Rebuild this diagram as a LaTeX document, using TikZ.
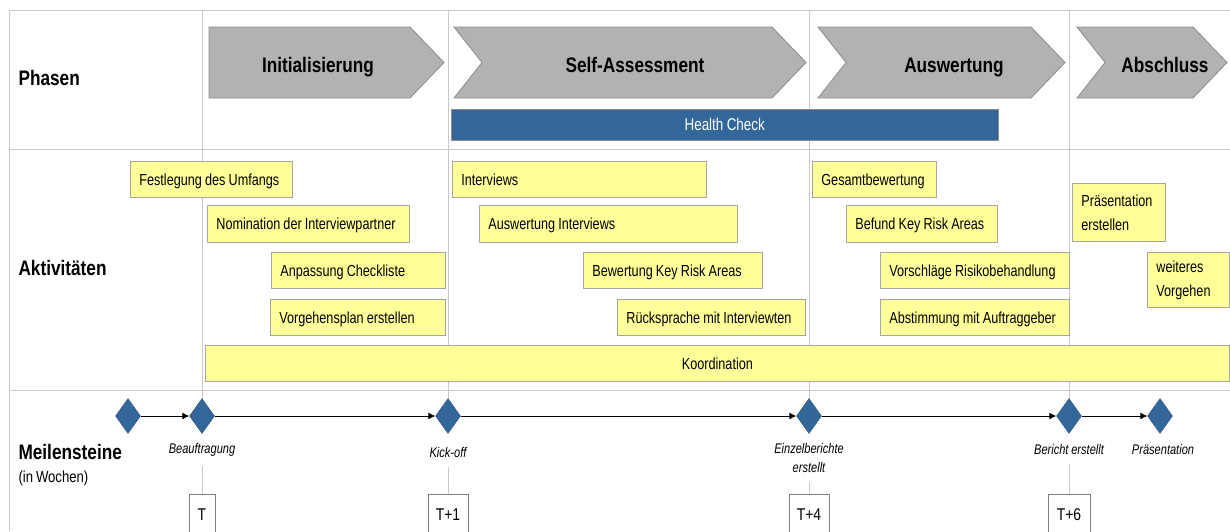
\documentclass[tikz,border=0pt]{standalone}
\usepackage{fontspec}
\setmainfont{Liberation Sans}[FakeStretch=0.82, WordSpace=0.8]
\newfontfamily\narrowfont{Liberation Sans}[FakeStretch=0.79, WordSpace=0.9]
\usetikzlibrary{shapes.geometric,arrows.meta}

\hyphenpenalty=10000
\exhyphenpenalty=10000

\definecolor{phasegray}{HTML}{B2B2B2}
\definecolor{phaseline}{HTML}{8C8C8C}
\definecolor{hcblue}{HTML}{336699}
\definecolor{actyellow}{HTML}{FFFF99}
\definecolor{actline}{HTML}{A6A6A6}
\definecolor{gridgray}{HTML}{C8C8C8}

\tikzset{
  gridline/.style={gridgray, line width=0.8pt},
  phase/.style={fill=phasegray, draw=phaseline, line width=0.8pt},
  phasetext/.style={anchor=base, font=\fontsize{21}{25}\selectfont\bfseries},
  rowtitle/.style={anchor=west, font=\fontsize{21}{25}\selectfont\bfseries},
  actbox/.style={draw=actline, fill=actyellow, line width=0.8pt, anchor=north west,
    minimum height=36pt, inner xsep=9pt, inner ysep=0pt, align=flush left,
    font=\narrowfont\fontsize{16}{24}\selectfont},
  oneline/.style={actbox, text height=15pt, text depth=3pt},
  milestone/.style={diamond, fill=hcblue, draw=hcblue!80!black, minimum width=25pt,
    minimum height=35pt, inner sep=0pt},
  msarrow/.style={-{Latex[length=7pt,width=7pt]}, line width=1pt},
  mslabel/.style={font=\narrowfont\fontsize{14}{19}\selectfont\itshape, align=flush center},
  weekbox/.style={draw=gray, fill=white, anchor=north, minimum height=40pt,
    inner sep=0pt, font=\fontsize{17}{20}\selectfont},
}

\begin{document}
\begin{tikzpicture}[x=1pt,y=-1pt]

        \useasboundingbox (0,0) rectangle (1230,531);

        % Masse der Phasenpfeile
        \def\ptop{27}   % Oberkante
        \def\pbot{98}   % Unterkante
        \def\pmid{62.5} % Spitze

        % Raster
        \draw[gridline] (9,10) -- (1230,10);
        \draw[gridline] (9,149) -- (1230,149);
        \draw[gridline] (9,390) -- (1230,390);
        \draw[gridline] (9,10) -- (9,531);
        \foreach \x in {202,448,809,1069}
          \draw[gridline] (\x,10) -- (\x,400);

        % Zeilentitel
        \node[rowtitle] (tphasen) at (15,78) {Phasen};
        \node[rowtitle] (taktiv) at (15,268) {Aktivitäten};
        \node[rowtitle] (tmeilen) at (15,452) {Meilensteine};
        \node[anchor=west, font=\fontsize{16}{19}\selectfont] (twochen) at (15,478) {(in Wochen)};

        % Phasen
        \filldraw[phase] (209,\ptop) -- (410,\ptop) -- (444,\pmid) -- (410,\pbot) -- (209,\pbot) -- cycle;
        \filldraw[phase] (454,\ptop) -- (772,\ptop) -- (806,\pmid) -- (772,\pbot) -- (454,\pbot) -- (482,\pmid) -- cycle;
        \filldraw[phase] (818,\ptop) -- (1031,\ptop) -- (1065,\pmid) -- (1031,\pbot) -- (818,\pbot) -- (846,\pmid) -- cycle;
        \filldraw[phase] (1077,\ptop) -- (1193,\ptop) -- (1227,\pmid) -- (1193,\pbot) -- (1077,\pbot) -- (1105,\pmid) -- cycle;

        \node[phasetext] (pinit) at (318,72) {Initialisierung};
        \node[phasetext] (pself) at (635,72) {Self-Assessment};
        \node[phasetext] (pausw) at (954,72) {Auswertung};
        \node[phasetext] (pabsch) at (1165,72) {Abschluss};

        % Health Check
        \node[fill=hcblue, draw=phaseline, anchor=north west, minimum width=547pt,
          minimum height=31pt, inner sep=0pt, text=white,
          font=\narrowfont\fontsize{17}{19}\selectfont] (health) at (451,109) {Health Check};

        % Aktivitaeten: Initialisierung
        \node[oneline, text width=144pt] (festl) at (130,161) {Festlegung des Umfangs};
        \node[oneline, text width=184pt, minimum height=37pt] (nomin) at (207,205) {Nomination der Interviewpartner};
        \node[oneline, text width=156pt] (anpass) at (271,252) {Anpassung Checkliste};
        \node[oneline, text width=157pt] (vorgeh) at (270,299) {Vorgehensplan erstellen};

        % Aktivitaeten: Self-Assessment
        \node[oneline, text width=236pt] (interv) at (452,161) {Interviews};
        \node[oneline, text width=240pt, minimum height=37pt] (auswint) at (479,205) {Auswertung Interviews};
        \node[oneline, text width=161pt] (bewkra) at (583,252) {Bewertung Key Risk Areas};
        \node[oneline, text width=170pt] (rueck) at (617,299) {Rücksprache mit Interviewten};

        % Aktivitaeten: Auswertung
        \node[oneline, text width=106pt] (gesamt) at (812,161) {Gesamtbewertung};
        \node[oneline, text width=133pt, minimum height=37pt] (befund) at (846,205) {Befund Key Risk Areas};
        \node[oneline, text width=171pt] (vorschl) at (880,252) {Vorschläge Risikobehandlung};
        \node[oneline, text width=171pt] (abstimm) at (880,299) {Abstimmung mit Auftraggeber};

        % Aktivitaeten: Abschluss
        \node[actbox, text width=75pt, minimum height=58pt] (praes) at (1072,183) {Präsentation\\erstellen};
        \node[actbox, text width=64pt, minimum height=55pt] (weiter) at (1147,252) {weiteres\\Vorgehen};

        % Koordination ueber alle Phasen
        \node[oneline, text width=1006pt, align=flush center] (koord) at (205,345) {Koordination};

        % Meilensteine
        \node[milestone] (m0) at (128,416) {};
        \node[milestone] (m1) at (202,416) {};
        \node[milestone] (m2) at (448,416) {};
        \node[milestone] (m3) at (809,416) {};
        \node[milestone] (m4) at (1069,416) {};
        \node[milestone] (m5) at (1160,416) {};

        \foreach \a/\b in {m0/m1,m1/m2,m2/m3,m3/m4,m4/m5}
          \draw[msarrow] (\a) -- (\b);

        \node[mslabel] (lbeauf) at (202,450) {Beauftragung};
        \node[mslabel] (lkick) at (448,452) {Kick-off};
        \node[mslabel] (leinzel) at (809,458) {Einzelberichte\\erstellt};
        \node[mslabel] (lbericht) at (1069,449) {Bericht erstellt};
        \node[mslabel] (lpraes) at (1163,449) {Präsentation};

        % Wochen
        \node[weekbox, minimum width=26pt] (wT) at (202,494) {T};
        \node[weekbox, minimum width=40pt] (wT1) at (448,494) {T+1};
        \node[weekbox, minimum width=40pt] (wT4) at (809,494) {T+4};
        \node[weekbox, minimum width=42pt] (wT6) at (1069,494) {T+6};

        \draw[gridline] ([yshift=-6pt]lbeauf.south) -- (wT.north);
        \draw[gridline] ([yshift=-6pt]lkick.south) -- (wT1.north);
        \draw[gridline] ([yshift=-6pt]leinzel.south) -- (wT4.north);
        \draw[gridline] ([yshift=-6pt]lbericht.south) -- (wT6.north);

\end{tikzpicture}
\end{document}
